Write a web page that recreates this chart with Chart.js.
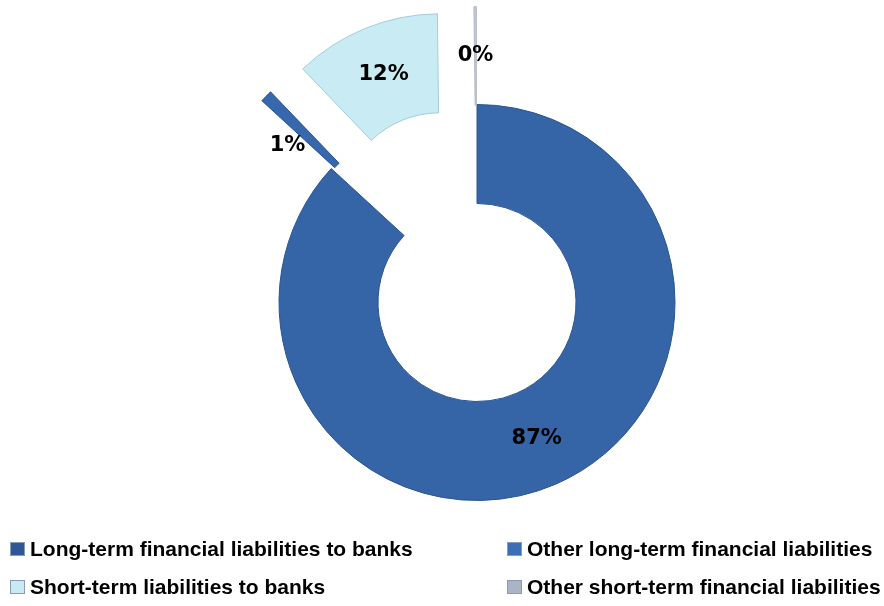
<!DOCTYPE html>
<html>
<head>
<meta charset="utf-8">
<script src="https://cdn.jsdelivr.net/npm/chart.js@4/dist/chart.umd.min.js"></script>
<style>
  html, body { margin: 0; padding: 0; background: #fff; }
  #wrap { width: 884px; height: 606px; position: relative; }
</style>
</head>
<body>
<div id="wrap"><canvas id="liabilities"></canvas></div>
<script>
const categories = [
  'Long-term financial liabilities to banks',
  'Other long-term financial liabilities',
  'Short-term liabilities to banks',
  'Other short-term financial liabilities'
]
const shares = [ 87, 1, 12, 0.2 ]
const sliceColors = [ '#3565A6', '#3768AD', '#C9EBF3', '#C3C9D2' ]
const sliceBorders = [ '#2A5590', '#2A5590', '#A3CDDA', '#B3BAC6' ]
const legendColors = [ '#2F5798', '#3C6EB6', '#C8EAF2', '#A9B4C6' ]
// how far each slice is pulled out of the ring (px)
const explode = [ 0, 97, 98, 98 ]

const total = shares.reduce((a, b) => a + b, 0)

const explodePlugin = {
  id: 'explode',
  afterUpdate(chart) {
    const meta = chart.getDatasetMeta(0)
    meta.data.forEach((arc, i) => {
      const d = explode[i] || 0
      if (!d) return
      const mid = (arc.startAngle + arc.endAngle) / 2
      arc.x += Math.cos(mid) * d
      arc.y += Math.sin(mid) * d
    })
  }
}

const pctLabels = {
  id: 'pctLabels',
  afterDatasetsDraw(chart) {
    const ctx = chart.ctx
    const meta = chart.getDatasetMeta(0)
    ctx.save()
    ctx.font = 'bold 21px "DejaVu Sans", Verdana, sans-serif'
    ctx.fillStyle = '#000'
    ctx.textAlign = 'center'
    ctx.textBaseline = 'middle'
    meta.data.forEach((arc, i) => {
      let { x, y } = arc.getCenterPoint()
      const pct = Math.round(shares[i] / total * 100)
      // thin wedges: put text beside the wedge, not on it
      if (pct > 0 && pct < 5) {
        const mid = (arc.startAngle + arc.endAngle) / 2
        x += Math.sin(mid) * 20
        y -= Math.cos(mid) * 20
      }
      ctx.fillText(pct + '%', x, y)
    })
    ctx.restore()
  }
}

const legendGrid = {
  id: 'legendGrid',
  afterDraw(chart) {
    const ctx = chart.ctx
    ctx.save()
    ctx.font = 'bold 21px "Liberation Sans", Arial, sans-serif'
    ctx.textBaseline = 'middle'
    ctx.textAlign = 'left'
    categories.forEach((label, i) => {
      const col = i % 2
      const row = Math.floor(i / 2)
      const x = col === 0 ? 10 : 507
      const y = 549 + row * 38
      ctx.fillStyle = legendColors[i]
      ctx.fillRect(x, y - 7, 15, 14)
      ctx.strokeStyle = '#8a9bb5'
      ctx.lineWidth = 1
      ctx.strokeRect(x + 0.5, y - 6.5, 14, 13)
      ctx.fillStyle = '#000'
      ctx.fillText(label, x + 20, y + 1)
    })
    ctx.restore()
  }
}

new Chart(document.getElementById('liabilities'), {
  type: 'doughnut',
  data: {
    labels: categories,
    datasets: [ {
      data: shares,
      backgroundColor: sliceColors,
      borderColor: sliceBorders,
      borderWidth: 1,
      clip: false,
    } ]
  },
  options: {
    responsive: true,
    maintainAspectRatio: false,
    animation: false,
    events: [],
    cutout: '50%',
    layout: { padding: { left: 100, right: 30, top: 104, bottom: 105 } },
    plugins: {
      legend: { display: false },
      tooltip: { enabled: false },
    },
  },
  plugins: [ explodePlugin, pctLabels, legendGrid ]
})
</script>
</body>
</html>
